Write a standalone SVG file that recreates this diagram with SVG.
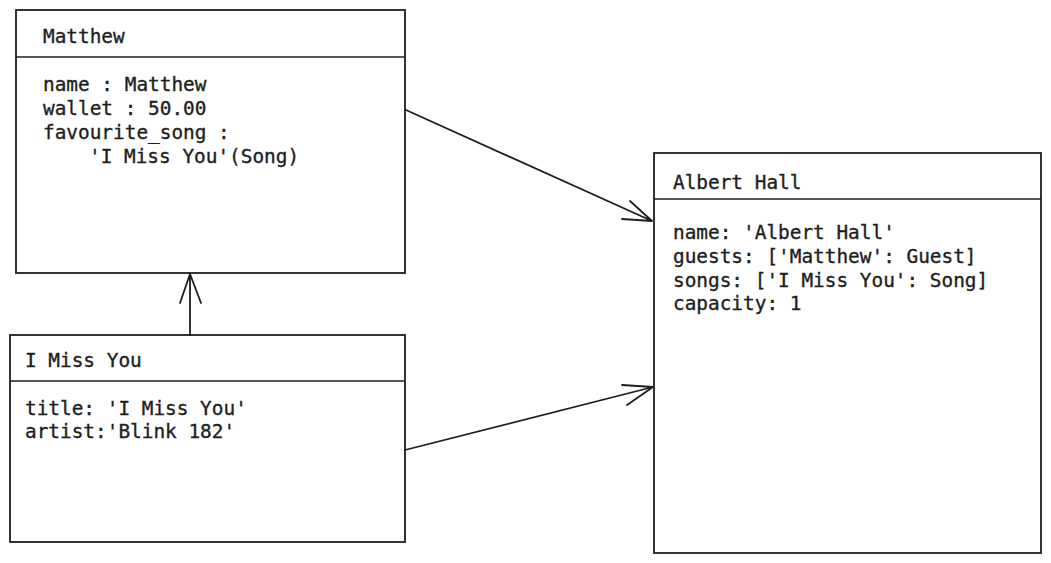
<svg xmlns="http://www.w3.org/2000/svg" width="1051" height="563" viewBox="0 0 1051 563">
<defs>
<style>
.box{fill:#ffffff;stroke:#1e1e1e;stroke-width:1.8}
.sep{stroke:#1e1e1e;stroke-width:1.6;fill:none}
.t{font-family:"DejaVu Sans Mono","Liberation Mono",monospace;font-size:19.4px;fill:#1e1e1e;stroke:#1e1e1e;stroke-width:0.35px}
.c{stroke:#1e1e1e;stroke-width:1.8;fill:none;stroke-linecap:round;stroke-linejoin:round}
</style>
</defs>
<rect width="1051" height="563" fill="#ffffff"/>
<g id="matthew">
<rect class="box" x="16" y="10" width="389" height="263"/>
<line class="sep" x1="16" y1="57" x2="405" y2="57"/>
<text class="t" x="43" y="43">Matthew</text>
<text class="t" x="43" y="91">name : Matthew</text>
<text class="t" x="43" y="115">wallet : 50.00</text>
<text class="t" x="43" y="139">favourite_song :</text>
<text class="t" x="89" y="163">'I Miss You'(Song)</text>
</g>
<g id="imissyou">
<rect class="box" x="10" y="335" width="395" height="207"/>
<line class="sep" x1="10" y1="381" x2="405" y2="381"/>
<text class="t" x="25" y="367">I Miss You</text>
<text class="t" x="25" y="415">title: 'I Miss You'</text>
<text class="t" x="25" y="438">artist:'Blink 182'</text>
</g>
<g id="alberthall">
<rect class="box" x="654" y="153" width="387" height="400"/>
<line class="sep" x1="654" y1="199" x2="1041" y2="199"/>
<text class="t" x="673" y="189">Albert Hall</text>
<text class="t" x="673" y="239">name: 'Albert Hall'</text>
<text class="t" x="673" y="263">guests: ['Matthew': Guest]</text>
<text class="t" x="673" y="287">songs: ['I Miss You': Song]</text>
<text class="t" x="673" y="310">capacity: 1</text>
</g>
<g id="connectors">
<path class="c" d="M406 110 L652 221 M630 201 L652 221 L622 219"/>
<path class="c" d="M405 450 L653 387 M622 385 L653 387 L627 405"/>
<path class="c" d="M190 335 L190 274 M180 303 L190 274 L201 303"/>
</g>
</svg>
